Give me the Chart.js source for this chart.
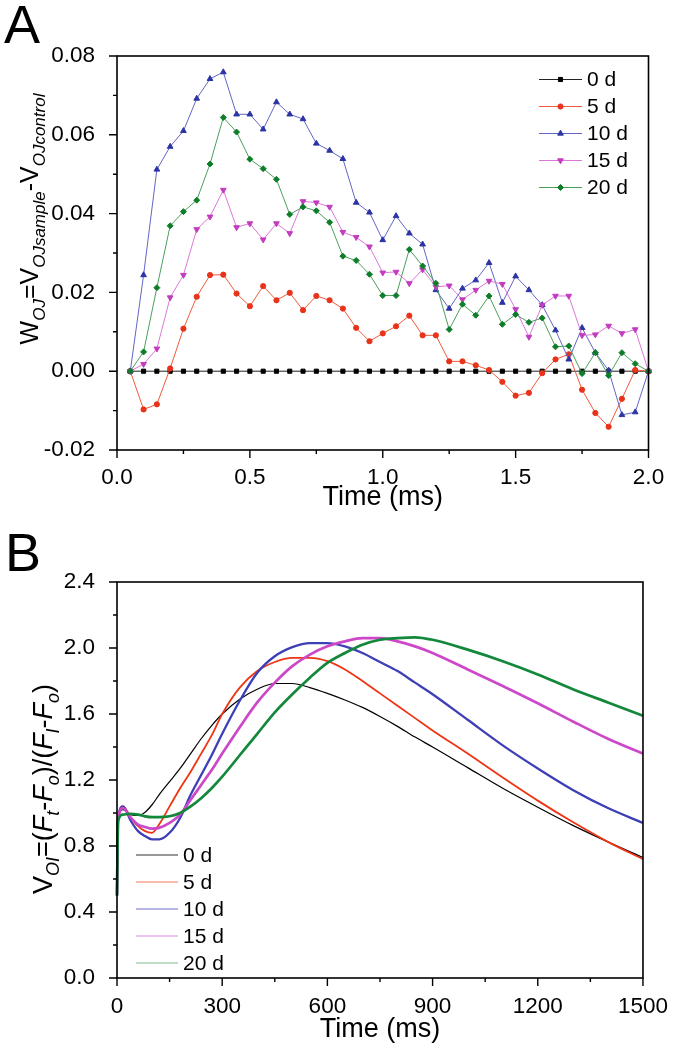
<!DOCTYPE html>
<html>
<head>
<meta charset="utf-8">
<script src="https://cdn.jsdelivr.net/npm/chart.js@4.4.1/dist/chart.umd.min.js"></script>
<style>
html, body { margin: 0; padding: 0; background: #fff; }
#wrapA { position: absolute; left: 0; top: 0; width: 675px; height: 520px; }
#wrapB { position: absolute; left: 0; top: 520px; width: 675px; height: 531px; }
</style>
</head>
<body>
<div id="wrapA"><canvas id="chartA" width="675" height="520"></canvas></div>
<div id="wrapB"><canvas id="chartB" width="675" height="531"></canvas></div>
<script>
(function () {

// ---------------------------------------------------------------- data

var seriesNames = ['0 d', '5 d', '10 d', '15 d', '20 d'];

// panel A : W_OJ (ms)
var timeA = [0.05, 0.10, 0.15, 0.20, 0.25, 0.30, 0.35, 0.40, 0.45, 0.50,
             0.55, 0.60, 0.65, 0.70, 0.75, 0.80, 0.85, 0.90, 0.95, 1.00,
             1.05, 1.10, 1.15, 1.20, 1.25, 1.30, 1.35, 1.40, 1.45, 1.50,
             1.55, 1.60, 1.65, 1.70, 1.75, 1.80, 1.85, 1.90, 1.95, 2.00];
var woj0 = [0, 0, 0, 0, 0, 0, 0, 0, 0, 0, 0, 0, 0, 0, 0, 0, 0, 0, 0, 0,
            0, 0, 0, 0, 0, 0, 0, 0, 0, 0, 0, 0, 0, 0, 0, 0, 0, 0, 0, 0];
var woj5 = [0, -0.0097, -0.0084, 0.0007, 0.0108, 0.0189, 0.0244, 0.0245, 0.0197, 0.0165,
            0.0216, 0.0180, 0.0199, 0.0155, 0.0191, 0.0180, 0.0159, 0.0110, 0.0076, 0.0096,
            0.0114, 0.0141, 0.0091, 0.0091, 0.0025, 0.0025, 0.0015, 0.0003, -0.0027, -0.0062,
            -0.0055, -0.0005, 0.0030, 0.0043, -0.0047, -0.0106, -0.0141, -0.0070, 0.0003, 0];
var woj10 = [0, 0.0244, 0.0512, 0.0570, 0.0610, 0.0692, 0.0742, 0.0759, 0.0652, 0.0652,
             0.0614, 0.0683, 0.0652, 0.0640, 0.0578, 0.0560, 0.0539, 0.0428, 0.0403, 0.0333,
             0.0394, 0.0350, 0.0322, 0.0206, 0.0159, 0.0210, 0.0231, 0.0275, 0.0174, 0.0241,
             0.0206, 0.0168, 0.0104, 0.0030, 0.0110, 0.0047, 0.0002, -0.0111, -0.0104, 0];
var woj15 = [0, 0.0018, 0.0057, 0.0187, 0.0244, 0.0360, 0.0392, 0.0460, 0.0365, 0.0375,
             0.0334, 0.0375, 0.0350, 0.0431, 0.0428, 0.0417, 0.0353, 0.0340, 0.0316, 0.0250,
             0.0252, 0.0223, 0.0258, 0.0214, 0.0217, 0.0182, 0.0206, 0.0229, 0.0221, 0.0157,
             0.0087, 0.0168, 0.0191, 0.0191, 0.0091, 0.0093, 0.0115, 0.0096, 0.0106, 0];
var woj20 = [0, 0.0049, 0.0212, 0.0369, 0.0405, 0.0434, 0.0526, 0.0644, 0.0607, 0.0538,
             0.0514, 0.0487, 0.0398, 0.0417, 0.0407, 0.0378, 0.0292, 0.0281, 0.0246, 0.0192,
             0.0192, 0.0309, 0.0267, 0.0223, 0.0106, 0.0170, 0.0142, 0.0191, 0.0119, 0.0144,
             0.0124, 0.0135, 0.0062, 0.0064, -0.0006, 0.0047, -0.0011, 0.0047, 0.0019, 0];

// panel B : V_OI (ms)
var timeB = [0, 3, 17, 40, 60, 80, 100, 120, 150, 180, 210, 240, 270, 300, 350, 400,
             450, 500, 550, 600, 650, 700, 750, 800, 850, 900, 1000, 1100, 1200, 1300, 1400, 1500];
var voi0 = [0.50, 0.96, 1.02, 0.99, 0.985, 1.005, 1.05, 1.11, 1.19, 1.27, 1.36, 1.45, 1.53, 1.60, 1.69, 1.75,
            1.785, 1.785, 1.76, 1.725, 1.685, 1.64, 1.585, 1.525, 1.46, 1.40, 1.275, 1.15, 1.035, 0.925, 0.825, 0.73];
var voi5 = [0.50, 0.96, 1.04, 0.97, 0.92, 0.89, 0.88, 0.93, 1.04, 1.15, 1.25, 1.36, 1.47, 1.60, 1.76, 1.86,
            1.915, 1.94, 1.94, 1.92, 1.87, 1.80, 1.725, 1.65, 1.575, 1.50, 1.36, 1.215, 1.075, 0.945, 0.825, 0.72];
var voi10 = [0.50, 0.96, 1.04, 0.95, 0.89, 0.86, 0.84, 0.84, 0.88, 0.97, 1.11, 1.23, 1.35, 1.48, 1.68, 1.85,
             1.95, 2.005, 2.03, 2.03, 2.01, 1.97, 1.915, 1.86, 1.79, 1.72, 1.565, 1.41, 1.27, 1.14, 1.03, 0.94];
var voi15 = [0.50, 0.96, 1.03, 0.97, 0.93, 0.915, 0.905, 0.91, 0.94, 0.99, 1.08, 1.17, 1.26, 1.36, 1.52, 1.67,
             1.79, 1.89, 1.96, 2.01, 2.04, 2.06, 2.06, 2.04, 2.01, 1.97, 1.87, 1.77, 1.665, 1.555, 1.45, 1.36];
var voi20 = [0.50, 0.95, 0.99, 0.995, 0.99, 0.98, 0.975, 0.975, 0.98, 1.00, 1.04, 1.09, 1.15, 1.22, 1.35, 1.48,
             1.61, 1.72, 1.82, 1.91, 1.97, 2.02, 2.05, 2.06, 2.065, 2.05, 1.99, 1.92, 1.84, 1.75, 1.67, 1.59];

// tick labels
var xMajorA = [0, 0.5, 1.0, 1.5, 2.0];
var yMajorA = [-0.02, 0.00, 0.02, 0.04, 0.06, 0.08];
var xMajorB = [0, 300, 600, 900, 1200, 1500];
var yMajorB = [0.0, 0.4, 0.8, 1.2, 1.6, 2.0, 2.4];

// ---------------------------------------------------------------- helpers

var FONT = "'Liberation Sans', Arial, sans-serif";
var TICK_SIZE = 22.5;

function pairs(xs, ys) {
    return xs.map(function (x, i) { return { x: x, y: ys[i] }; });
}

function majorIndex(v, majors) {
    for (var i = 0; i < majors.length; i++) {
        if (Math.abs(v - majors[i]) < 1e-7) return i;
    }
    return -1;
}

function tickCb(majors, digits) {
    return function (v) {
        var i = majorIndex(v, majors);
        return i < 0 ? '' : majors[i].toFixed(digits);
    };
}

function marker(ctx, style, x, y) {
    if (Chart.helpers && Chart.helpers.drawPoint) {
        Chart.helpers.drawPoint(ctx, { pointStyle: style.pointStyle, rotation: style.rotation || 0,
            radius: style.radius, borderWidth: 1 }, x, y);
    }
}

// rich text, rotated -90deg, parts {t, sub, it}
function drawRich(ctx, parts, cx, cy, size, subSize, subShift) {
    var total = 0;
    parts.forEach(function (p) {
        ctx.font = (p.it ? 'italic ' : '') + (p.sub ? subSize : size) + 'px ' + FONT;
        p.w = ctx.measureText(p.t).width;
        total += p.w;
    });
    ctx.save();
    ctx.translate(cx, cy);
    ctx.rotate(-Math.PI / 2);
    ctx.textAlign = 'left';
    ctx.textBaseline = 'alphabetic';
    var x = -total / 2;
    parts.forEach(function (p) {
        ctx.font = (p.it ? 'italic ' : '') + (p.sub ? subSize : size) + 'px ' + FONT;
        ctx.fillText(p.t, x, p.sub ? subShift : 0);
        x += p.w;
    });
    ctx.restore();
}

// frame, ticks, titles, legend
var panelDeco = {
    id: 'panelDeco',
    afterDraw: function (chart, args, o) {
        var ctx = chart.ctx, a = chart.chartArea;
        var xs = chart.scales.x, ys = chart.scales.y;
        ctx.save();
        ctx.strokeStyle = '#000';
        ctx.lineWidth = 1.6;
        ctx.strokeRect(a.left, a.top, a.right - a.left, a.bottom - a.top);

        ctx.lineWidth = 1.4;
        ctx.beginPath();
        xs.ticks.forEach(function (t) {
            var px = xs.getPixelForValue(t.value);
            var len = majorIndex(t.value, o.xMajor) >= 0 ? 8 : 4;
            ctx.moveTo(px, a.bottom);
            ctx.lineTo(px, a.bottom + len);
        });
        ys.ticks.forEach(function (t) {
            var py = ys.getPixelForValue(t.value);
            var len = majorIndex(t.value, o.yMajor) >= 0 ? 8 : 4;
            ctx.moveTo(a.left, py);
            ctx.lineTo(a.left - len, py);
        });
        ctx.stroke();

        ctx.fillStyle = '#000';
        ctx.font = '54px ' + FONT;
        ctx.textAlign = 'left';
        ctx.textBaseline = 'alphabetic';
        ctx.fillText(o.letter, o.letterX, o.letterY);

        ctx.font = '27px ' + FONT;
        ctx.textAlign = 'center';
        ctx.textBaseline = 'middle';
        ctx.fillText('Time (ms)', (a.left + a.right) / 2, o.xTitleY);

        drawRich(ctx, o.yTitle, o.yTitleX, o.yTitleY, o.yTitleSize, o.yTitleSub, o.subShift);

        // legend
        var L = o.legend;
        ctx.font = '21px ' + FONT;
        ctx.textAlign = 'left';
        ctx.textBaseline = 'middle';
        chart.data.datasets.forEach(function (ds, i) {
            var y = L.y + i * L.gap;
            ctx.strokeStyle = L.lineColors ? L.lineColors[i] : ds.borderColor;
            ctx.lineWidth = L.lineWidth;
            ctx.beginPath();
            ctx.moveTo(L.x0, y);
            ctx.lineTo(L.x1, y);
            ctx.stroke();
            if (ds.pointStyle && ds.pointRadius > 0) {
                ctx.fillStyle = ds.pointBackgroundColor;
                ctx.strokeStyle = ds.pointBorderColor;
                marker(ctx, { pointStyle: ds.pointStyle, rotation: ds.pointRotation, radius: ds.pointRadius },
                       (L.x0 + L.x1) / 2, y);
            }
            ctx.fillStyle = '#000';
            ctx.fillText(ds.label, L.tx, y + 1);
        });
        ctx.restore();
    }
};

// ---------------------------------------------------------------- panel A

var styleA = [
    { line: '#222222', fill: '#000000', shape: 'rect', r: 2.9, rot: 0 },
    { line: '#f05a3a', fill: '#e8321a', shape: 'circle', r: 2.6, rot: 0 },
    { line: '#6266c4', fill: '#2c34a4', shape: 'triangle', r: 3.3, rot: 0 },
    { line: '#dc78d8', fill: '#c23cbf', shape: 'triangle', r: 3.3, rot: 180 },
    { line: '#4b9f5c', fill: '#0e7d2a', shape: 'rectRot', r: 3.0, rot: 0 }
];
var wojSeries = [woj0, woj5, woj10, woj15, woj20];

new Chart(document.getElementById('chartA').getContext('2d'), {
    type: 'line',
    data: {
        datasets: wojSeries.map(function (vals, i) {
            var s = styleA[i];
            return {
                label: seriesNames[i],
                data: pairs(timeA, vals),
                borderColor: s.line,
                borderWidth: 1,
                pointStyle: s.shape,
                pointRotation: s.rot,
                pointRadius: s.r,
                pointBackgroundColor: s.fill,
                pointBorderColor: s.fill,
                pointBorderWidth: 1,
                tension: 0,
                clip: false,
                order: 4 - i
            };
        })
    },
    options: {
        responsive: false,
        animation: false,
        events: [],
        layout: { padding: { left: 0, right: 26.5, top: 56, bottom: 0 } },
        scales: {
            x: {
                type: 'linear', min: 0, max: 2,
                grid: { display: false }, border: { display: false },
                ticks: { stepSize: 0.25, autoSkip: false, maxRotation: 0, padding: 6,
                         color: '#000', font: { family: FONT, size: TICK_SIZE }, callback: tickCb(xMajorA, 1) },
                afterFit: function (s) { s.height = 70; }
            },
            y: {
                type: 'linear', min: -0.02, max: 0.08,
                grid: { display: false }, border: { display: false },
                ticks: { stepSize: 0.01, autoSkip: false, padding: 14,
                         color: '#000', font: { family: FONT, size: TICK_SIZE }, callback: tickCb(yMajorA, 2) },
                afterFit: function (s) { s.width = 117; }
            }
        },
        plugins: {
            legend: { display: false },
            tooltip: { enabled: false },
            panelDeco: {
                xMajor: xMajorA, yMajor: yMajorA,
                letter: 'A', letterX: 4, letterY: 43,
                xTitleY: 498,
                yTitle: [
                    { t: 'W' }, { t: 'OJ', sub: true, it: true },
                    { t: '=V' }, { t: 'OJsample', sub: true, it: true },
                    { t: '-V' }, { t: 'OJcontrol', sub: true, it: true }
                ],
                yTitleX: 38, yTitleY: 219, yTitleSize: 25, yTitleSub: 17, subShift: 7,
                legend: { x0: 539, x1: 582, tx: 587, y: 79.5, gap: 27, lineWidth: 1 }
            }
        }
    },
    plugins: [panelDeco]
});

// ---------------------------------------------------------------- panel B

var colorsB = ['#000000', '#ee3514', '#3d3fb6', '#cc48c8', '#13873a'];
var widthsB = [1.2, 1.8, 2.3, 2.7, 2.7];
var legendLinesB = ['#333333', '#f2785c', '#6a6cc8', '#e08ade', '#7fb98e'];
var voiSeries = [voi0, voi5, voi10, voi15, voi20];

new Chart(document.getElementById('chartB').getContext('2d'), {
    type: 'line',
    data: {
        datasets: voiSeries.map(function (vals, i) {
            return {
                label: seriesNames[i],
                data: pairs(timeB, vals),
                borderColor: colorsB[i],
                borderWidth: widthsB[i],
                pointRadius: 0,
                cubicInterpolationMode: 'monotone',
                clip: false,
                order: 4 - i
            };
        })
    },
    options: {
        responsive: false,
        animation: false,
        events: [],
        layout: { padding: { left: 0, right: 26.5, top: 62, bottom: 0 } },
        scales: {
            x: {
                type: 'linear', min: 0, max: 1500,
                grid: { display: false }, border: { display: false },
                ticks: { stepSize: 150, autoSkip: false, maxRotation: 0, padding: 7,
                         color: '#000', font: { family: FONT, size: TICK_SIZE }, callback: tickCb(xMajorB, 0) },
                afterFit: function (s) { s.height = 73; }
            },
            y: {
                type: 'linear', min: 0, max: 2.4,
                grid: { display: false }, border: { display: false },
                ticks: { stepSize: 0.2, autoSkip: false, padding: 14,
                         color: '#000', font: { family: FONT, size: TICK_SIZE }, callback: tickCb(yMajorB, 1) },
                afterFit: function (s) { s.width = 117; }
            }
        },
        plugins: {
            legend: { display: false },
            tooltip: { enabled: false },
            panelDeco: {
                xMajor: xMajorB, yMajor: yMajorB,
                letter: 'B', letterX: 5, letterY: 51,
                xTitleY: 510,
                yTitle: [
                    { t: 'V' }, { t: 'OI', sub: true, it: true },
                    { t: '=(' }, { t: 'F', it: true }, { t: 't', sub: true, it: true },
                    { t: '-' }, { t: 'F', it: true }, { t: 'o', sub: true, it: true },
                    { t: ')/(' }, { t: 'F', it: true }, { t: 'I', sub: true, it: true },
                    { t: '-' }, { t: 'F', it: true }, { t: 'o', sub: true, it: true },
                    { t: ')' }
                ],
                yTitleX: 52, yTitleY: 269, yTitleSize: 27, yTitleSub: 18, subShift: 7,
                legend: { x0: 136, x1: 178, tx: 183, y: 335, gap: 27, lineWidth: 1.2, lineColors: legendLinesB }
            }
        }
    },
    plugins: [panelDeco]
});

})();
</script>
</body>
</html>
